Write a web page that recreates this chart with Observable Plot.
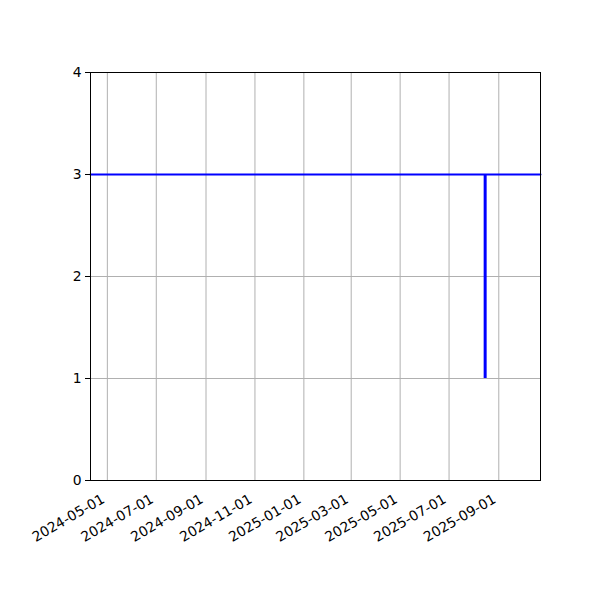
<!DOCTYPE html>
<html><head><meta charset="utf-8">
<script src="https://cdn.jsdelivr.net/npm/d3@7"></script>
<script src="https://cdn.jsdelivr.net/npm/@observablehq/plot@0.6"></script>
<style>body{margin:0;background:#fff;} svg{font-family:"DejaVu Sans";}</style>
</head><body><div id="chart"></div>
<script>
const xDomain = ["2024-04-10", "2025-10-23"];
const xTicks = ["2024-05-01","2024-07-01","2024-09-01","2024-11-01","2025-01-01","2025-03-01","2025-05-01","2025-07-01","2025-09-01"];
const yTicks = [0, 1, 2, 3, 4];
const levelValue = 3;
const eventDate = "2025-08-15";
const eventLow = 1;
const eventHigh = 3;

const P = s => new Date(s + "T00:00:00Z");
const dom = xDomain.map(P);
const ticks = xTicks.map(P);
const levelData = dom.map(d => ({date: d, value: levelValue}));
const eventData = [{date: P(eventDate), y1: eventLow, y2: eventHigh}];

const chart = Plot.plot({
  width: 600, height: 600,
  marginLeft: 90, marginRight: 60, marginTop: 72, marginBottom: 120,
  style: {fontFamily: "DejaVu Sans", fontSize: "13.9px", background: "#fff"},
  x: {type: "utc", domain: dom},
  y: {domain: [0, 4]},
  marks: [
    Plot.gridX(ticks, {stroke: "#b0b0b0", strokeOpacity: 1, strokeWidth: 1}),
    Plot.gridY(yTicks, {stroke: "#b0b0b0", strokeOpacity: 1, strokeWidth: 1}),
    Plot.line(levelData, {x: "date", y: "value", stroke: "#0000ff", strokeWidth: 2}),
    Plot.ruleX(eventData, {x: "date", y1: "y1", y2: "y2", stroke: "#0000ff", strokeWidth: 3}),
    Plot.frame({stroke: "#000", strokeWidth: 1}),
    Plot.axisX(ticks, {tickFormat: d3.utcFormat("%Y-%m-%d"), tickSize: 5, tickRotate: -30, textAnchor: "end", dx: -4, dy: 5, label: null, fill: "#000", stroke: null, fontSize: 13.9}),
    Plot.axisY(yTicks, {tickSize: 5, tickPadding: 4, tickFormat: d3.format("d"), label: null, fontSize: 13.9})
  ]
});
document.getElementById("chart").appendChild(chart);
</script></body></html>
